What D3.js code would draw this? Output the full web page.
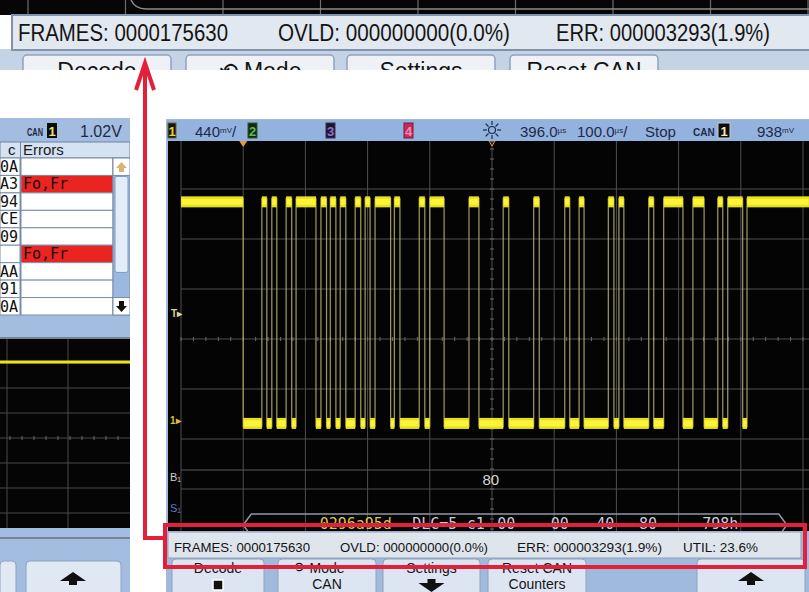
<!DOCTYPE html>
<html>
<head>
<meta charset="utf-8">
<script src="https://cdn.jsdelivr.net/npm/d3@7"></script>
<style>
body { margin: 0; background: #fff; overflow: hidden; }
svg { display: block; }
.sans { font-family: "Liberation Sans Narrow", "Liberation Sans", Arial, sans-serif; }
.mono { font-family: "DejaVu Sans Mono", "Liberation Mono", monospace; }
</style>
</head>
<body>
<script>
var W = 809, H = 592;

// ---- data ----
// CAN line: edge times in µs from the left of the screen, level toggles at each one (starts recessive/high)
var edgeTimes = [100, 130, 138, 146, 154, 169, 178, 185, 217, 225, 234, 240, 249, 256, 265,
  280, 289, 296, 304, 312, 337, 343, 352, 383, 392, 400, 423, 463, 479, 518, 527,
  567, 576, 617, 625, 640, 648, 687, 696, 704, 712, 752, 760, 776, 807, 823, 841,
  863, 871, 879, 903, 910];
var highVolts = 1.92, lowVolts = -0.03;
var voltsPerDiv = 0.44, centerVolts = 0.713;
var timePerDiv = 100;

var frameStart = 100, frameEnd = 974;
var busFields = ["0296a95d", "DLC=5", "c1", "00", "00", "40", "80", "798h"];
var busFieldTimes = [281, 408, 474, 523, 609, 682, 751, 867];
var laneValue = "80", laneValueTime = 498;

var counterLabels = ["FRAMES: 0000175630", "OVLD: 000000000(0.0%)", "ERR: 000003293(1.9%)", "UTIL: 23.6%"];
var frameIds = ["0A", "A3", "94", "CE", "09", "", "AA", "91", "0A"];
var frameErrors = ["", "Fo,Fr", "", "", "", "Fo,Fr", "", "", ""];
var softkeyTop = ["Decode", "Mode", "Settings", "Reset CAN"];
var softkeyBottom = ["", "CAN", "", "Counters"];

var svg = d3.select("body").append("svg").attr("width", W).attr("height", H);
var defs = svg.append("defs");
defs.append("filter").attr("id", "glow").append("feGaussianBlur").attr("stdDeviation", 0.7);

function clip(id, cx, cy, w, h) {
  defs.append("clipPath").attr("id", id).append("rect")
    .attr("x", cx).attr("y", cy).attr("width", w).attr("height", h);
  return "url(#" + id + ")";
}
function arrow(g, cx, cy, dir) {
  // thick arrow, dir 1 = up, -1 = down
  var s = dir;
  g.append("path")
    .attr("d", "M" + cx + "," + (cy - 7 * s) + " L" + (cx + 13) + "," + (cy + 2 * s) +
      " L" + (cx + 4) + "," + (cy + 2 * s) + " L" + (cx + 4) + "," + (cy + 6 * s) +
      " L" + (cx - 4) + "," + (cy + 6 * s) + " L" + (cx - 4) + "," + (cy + 2 * s) +
      " L" + (cx - 13) + "," + (cy + 2 * s) + "Z")
    .attr("fill", "#111");
}

// ================= top strip (enlarged status line) =================
var topG = svg.append("g").attr("clip-path", clip("topclip", 0, 0, W, 70));
topG.append("rect").attr("x", 0).attr("y", 0).attr("width", W).attr("height", 15).attr("fill", "#060606");
d3.range(28, W, 97.5).forEach(function (gx) {
  topG.append("line").attr("x1", gx).attr("x2", gx).attr("y1", 0).attr("y2", 15)
    .attr("stroke", "#6e6e6e").attr("stroke-width", 1.2);
});
topG.append("path").attr("d", "M131,0 Q135,9 146,9 L809,9")
  .attr("fill", "none").attr("stroke", "#8c8c8c").attr("stroke-width", 1.5);
topG.append("rect").attr("x", 0).attr("y", 49).attr("width", W).attr("height", 21).attr("fill", "#c5d3e6");
topG.append("rect").attr("x", 12).attr("y", 15).attr("width", 800).attr("height", 35)
  .attr("fill", "#e2e8ef").attr("stroke", "#8093ab").attr("stroke-width", 2);
var topCounterX = [18, 278, 556], topCounterW = [210, 232, 214];
counterLabels.slice(0, 3).forEach(function (s, i) {
  topG.append("text").attr("class", "sans").attr("x", topCounterX[i]).attr("y", 41)
    .attr("font-size", 23).attr("fill", "#141414")
    .attr("textLength", topCounterW[i]).attr("lengthAdjust", "spacingAndGlyphs").text(s);
});
var topKeyX = [23, 186, 347, 510];
softkeyTop.forEach(function (s, i) {
  topG.append("rect").attr("x", topKeyX[i]).attr("y", 55).attr("width", 148).attr("height", 30)
    .attr("rx", 4).attr("fill", "#eef2f7").attr("stroke", "#8ea2bd").attr("stroke-width", 1.5);
  topG.append("text").attr("class", "sans").attr("x", topKeyX[i] + 74).attr("y", 79)
    .attr("text-anchor", "middle").attr("font-size", 23).attr("fill", "#141414")
    .text(i === 1 ? "\u27F2 " + s : s);
});

// ================= left scope panel =================
var left = svg.append("g").attr("clip-path", clip("leftclip", 0, 118, 130, 474));
left.append("rect").attr("x", 0).attr("y", 118).attr("width", 130).attr("height", 474).attr("fill", "#a3bde0");
left.append("text").attr("class", "sans").attr("x", 27).attr("y", 136).attr("font-size", 10)
  .attr("font-weight", "bold").attr("fill", "#1c2a48")
  .attr("textLength", 16).attr("lengthAdjust", "spacingAndGlyphs").text("CAN");
left.append("rect").attr("x", 47).attr("y", 123).attr("width", 10).attr("height", 15).attr("fill", "#0c0c0c");
left.append("text").attr("class", "sans").attr("x", 52).attr("y", 136).attr("text-anchor", "middle")
  .attr("font-size", 13).attr("font-weight", "bold").attr("fill", "#ece27a").text("1");
left.append("text").attr("class", "sans").attr("x", 80).attr("y", 137).attr("font-size", 16)
  .attr("fill", "#1c2a48").text("1.02V");

var rowY = d3.scaleBand().domain(d3.range(frameIds.length)).range([158, 315]);
left.append("rect").attr("x", 0).attr("y", 142).attr("width", 130).attr("height", 16)
  .attr("fill", "#d4e2f2").attr("stroke", "#6d84a6");
left.append("line").attr("x1", 20.5).attr("x2", 20.5).attr("y1", 142).attr("y2", 315).attr("stroke", "#6d84a6");
left.append("text").attr("class", "sans").attr("x", 8).attr("y", 155).attr("font-size", 15).attr("fill", "#1a1a1a").text("c");
left.append("text").attr("class", "sans").attr("x", 23).attr("y", 155).attr("font-size", 15).attr("fill", "#1a1a1a").text("Errors");
var rows = left.selectAll("g.row").data(frameIds).enter().append("g");
rows.append("rect").attr("x", 0).attr("y", function (d, i) { return rowY(i); })
  .attr("width", 20).attr("height", rowY.bandwidth()).attr("fill", "#fff").attr("stroke", "#7b8ea8");
rows.append("rect").attr("x", 21).attr("y", function (d, i) { return rowY(i); })
  .attr("width", 92).attr("height", rowY.bandwidth())
  .attr("fill", function (d, i) { return frameErrors[i] ? "#ea2420" : "#fff"; })
  .attr("stroke", "#7b8ea8");
rows.append("text").attr("class", "mono").attr("x", 18).attr("text-anchor", "end")
  .attr("y", function (d, i) { return rowY(i) + 14; }).attr("font-size", 15).attr("fill", "#111")
  .text(function (d) { return d; });
rows.append("text").attr("class", "mono").attr("x", 23)
  .attr("y", function (d, i) { return rowY(i) + 14; }).attr("font-size", 15).attr("fill", "#111")
  .text(function (d, i) { return frameErrors[i]; });
// scroll bar
left.append("rect").attr("x", 113).attr("y", 158).attr("width", 17).attr("height", 157).attr("fill", "#9bb9e0").attr("stroke", "#7b8ea8");
left.append("rect").attr("x", 113).attr("y", rowY(0)).attr("width", 17).attr("height", rowY.bandwidth()).attr("fill", "#fff").attr("stroke", "#7b8ea8");
left.append("rect").attr("x", 113).attr("y", rowY(8)).attr("width", 17).attr("height", rowY.bandwidth()).attr("fill", "#fff").attr("stroke", "#7b8ea8");
left.append("rect").attr("x", 115).attr("y", rowY(1) + 1).attr("width", 13).attr("height", 96).attr("rx", 2).attr("fill", "#e3ecf7").attr("stroke", "#7e9cc6");
left.append("path").attr("d", "M121.5,162 L127,168 L124,168 L124,172 L119,172 L119,168 L116,168Z").attr("fill", "#d9b27a");
left.append("path").attr("d", "M121.5,312 L127,306 L124,306 L124,301 L119,301 L119,306 L116,306Z").attr("fill", "#111");

// left screen
left.append("rect").attr("x", 0).attr("y", 339).attr("width", 130).attr("height", 189).attr("fill", "#050505");
var leftY = d3.scaleLinear().domain([-1.6, 2.4]).range([538, 338]);
d3.range(-1.6, 2.41, 0.5).forEach(function (v) {
  left.append("line").attr("x1", 0).attr("x2", 130).attr("y1", leftY(v)).attr("y2", leftY(v))
    .attr("stroke", "#4a4a4a").attr("stroke-width", 1);
});
[7, 68].forEach(function (gx) {
  left.append("line").attr("x1", gx).attr("x2", gx).attr("y1", 339).attr("y2", 528).attr("stroke", "#4a4a4a");
});
d3.range(-2, 130, 12).forEach(function (tx) {
  left.append("line").attr("x1", tx).attr("x2", tx).attr("y1", leftY(0.4) - 2).attr("y2", leftY(0.4) + 2).attr("stroke", "#666");
});
left.append("line").attr("x1", 0).attr("x2", 130).attr("y1", leftY(highVolts)).attr("y2", leftY(highVolts))
  .attr("stroke", "#eee21c").attr("stroke-width", 3);
left.append("rect").attr("x", 0).attr("y", 561).attr("width", 16).attr("height", 40).attr("rx", 4).attr("fill", "#dfe8f3").attr("stroke", "#8ea2bd");
left.append("rect").attr("x", 26).attr("y", 561).attr("width", 95).attr("height", 40).attr("rx", 4).attr("fill", "#dfe8f3").attr("stroke", "#8ea2bd");
arrow(left, 73, 579, 1);

// ================= main scope =================
var x = d3.scaleLinear().domain([0, 10 * timePerDiv]).range([181, 803]);
var y = d3.scaleLinear().domain([centerVolts - 4 * voltsPerDiv, centerVolts + 4 * voltsPerDiv]).range([539, 139]);

var scope = svg.append("g");
scope.append("rect").attr("x", 166).attr("y", 119).attr("width", 643).attr("height", 473).attr("fill", "#a0bade");
scope.append("rect").attr("x", 167).attr("y", 120).attr("width", 642).attr("height", 21).attr("fill", "#93b2dd");

var screen = scope.append("g").attr("clip-path", clip("scrclip", 168, 141, 641, 390));
screen.append("rect").attr("x", 168).attr("y", 141).attr("width", 641).attr("height", 390).attr("fill", "#040404");

var gridG = screen.append("g").attr("stroke", "#4e4e4e").attr("stroke-width", 1);
d3.range(0, 10 * timePerDiv + 1, timePerDiv).forEach(function (t) {
  gridG.append("line").attr("x1", x(t)).attr("x2", x(t)).attr("y1", 141).attr("y2", 531);
});
d3.range(0, 9).forEach(function (k) {
  var v = centerVolts + (4 - k) * voltsPerDiv;
  gridG.append("line").attr("x1", 181).attr("x2", 809).attr("y1", y(v)).attr("y2", y(v));
});
d3.range(0, 10 * timePerDiv + 1, timePerDiv / 5).forEach(function (t) {
  gridG.append("line").attr("x1", x(t)).attr("x2", x(t)).attr("y1", y(centerVolts) - 2).attr("y2", y(centerVolts) + 2).attr("stroke", "#6a6a6a");
});
d3.range(-4, 4.01, 0.2).forEach(function (k) {
  var v = centerVolts + k * voltsPerDiv;
  gridG.append("line").attr("x1", x(500) - 2).attr("x2", x(500) + 2).attr("y1", y(v)).attr("y2", y(v)).attr("stroke", "#6a6a6a");
});
// lane line for the symbolic row
screen.append("line").attr("x1", 181).attr("x2", 809).attr("y1", 470).attr("y2", 470).attr("stroke", "#5a5a5a");

// CAN trace
var bounds = [0].concat(edgeTimes).concat([x.invert(W)]);
var segs = d3.range(bounds.length - 1).map(function (i) {
  return { t0: bounds[i], t1: bounds[i + 1], v: i % 2 === 0 ? highVolts : lowVolts };
});
var trace = screen.append("g");
trace.selectAll("line.edge").data(edgeTimes).enter().append("line")
  .attr("x1", function (d) { return x(d); }).attr("x2", function (d) { return x(d); })
  .attr("y1", y(highVolts) - 4).attr("y2", y(lowVolts) + 4)
  .attr("stroke", "#bdb770").attr("stroke-width", 1.2).attr("opacity", 0.85);
trace.selectAll("rect.band").data(segs).enter().append("rect")
  .attr("x", function (d) { return x(d.t0); })
  .attr("width", function (d) { return x(d.t1) - x(d.t0); })
  .attr("y", function (d) { return y(d.v) - 5.5; }).attr("height", 11)
  .attr("fill", "#e9e01a").attr("filter", "url(#glow)");
trace.selectAll("rect.core").data(segs).enter().append("rect")
  .attr("x", function (d) { return x(d.t0) + 0.5; })
  .attr("width", function (d) { return Math.max(0, x(d.t1) - x(d.t0) - 1); })
  .attr("y", function (d) { return y(d.v) - 3; }).attr("height", 6)
  .attr("fill", "#fbf43a");

// margin labels
screen.append("text").attr("class", "sans").attr("x", 171).attr("y", y(0.938) + 4).attr("font-size", 10)
  .attr("font-weight", "bold").attr("fill", "#ddd4a0").text("T\u25B8");
screen.append("text").attr("class", "sans").attr("x", 170).attr("y", y(0) + 4).attr("font-size", 10)
  .attr("font-weight", "bold").attr("fill", "#d8bf3c").text("1\u25B8");
screen.append("text").attr("class", "sans").attr("x", 170).attr("y", 481).attr("font-size", 11)
  .attr("fill", "#cfcfcf").text("B\u2081");
screen.append("text").attr("class", "sans").attr("x", 170).attr("y", 512).attr("font-size", 11)
  .attr("fill", "#5d7fc4").text("S\u2081");

// symbolic lane and decoded bus
screen.append("text").attr("class", "sans").attr("x", x(laneValueTime)).attr("y", 485)
  .attr("text-anchor", "middle").attr("font-size", 15).attr("fill", "#d6d6d6").text(laneValue);
var bx0 = x(frameStart), bx1 = x(frameEnd), by = 525, bh = 11;
screen.append("path")
  .attr("d", "M" + bx0 + "," + by + " L" + (bx0 + 8) + "," + (by - bh) + " L" + (bx1 - 8) + "," + (by - bh) +
    " L" + bx1 + "," + by + " L" + (bx1 - 8) + "," + (by + bh) + " L" + (bx0 + 8) + "," + (by + bh) + "Z")
  .attr("fill", "none").attr("stroke", "#8e98a8").attr("stroke-width", 1.5);
screen.selectAll("text.bus").data(busFields).enter().append("text").attr("class", "mono")
  .attr("x", function (d, i) { return x(busFieldTimes[i]); }).attr("y", 529)
  .attr("text-anchor", "middle").attr("font-size", 15)
  .attr("fill", function (d, i) { return i === 0 ? "#d9c847" : "#c6ced8"; })
  .text(function (d) { return d; });

// top markers
screen.append("path").attr("d", "M" + (x(frameStart) - 4) + ",141 L" + (x(frameStart) + 4) + ",141 L" + x(frameStart) + ",147Z").attr("fill", "#e79a3c");
screen.append("path").attr("d", "M" + (x(500) - 3) + ",141 L" + (x(500) + 3) + ",141 L" + x(500) + ",146Z").attr("fill", "none").attr("stroke", "#e79a3c");

// header bar
var hdr = scope.append("g");
function badge(bx, w, fill, stroke, txt, color) {
  hdr.append("rect").attr("x", bx).attr("y", 123).attr("width", w).attr("height", 15).attr("fill", fill).attr("stroke", stroke);
  hdr.append("text").attr("class", "sans").attr("x", bx + w / 2).attr("y", 136).attr("text-anchor", "middle")
    .attr("font-size", 13).attr("font-weight", "bold").attr("fill", color).text(txt);
}
function hdrText(hx, main, unit, tail) {
  var t = hdr.append("text").attr("class", "sans").attr("x", hx).attr("y", 137).attr("font-size", 15).attr("fill", "#1c2a48");
  t.append("tspan").text(main);
  if (unit) t.append("tspan").attr("font-size", 8).attr("dy", -4).text(unit);
  if (tail) t.append("tspan").attr("dy", 4).text(tail);
}
badge(168, 8, "#141414", "#6b6220", "1", "#e6d53a");
hdrText(195, "440", "mV", "/");
badge(248, 9, "#182418", "#2e5a2e", "2", "#56c04a");
badge(326, 9, "#1c1628", "#3c2f5a", "3", "#8f72d8");
badge(404, 9, "#c8285a", "#7a1a3a", "4", "#f08cae");
var sun = hdr.append("g").attr("transform", "translate(" + x(500) + ",130)");
sun.append("circle").attr("r", 3.5).attr("fill", "none").attr("stroke", "#1c2a48").attr("stroke-width", 1.2);
d3.range(8).forEach(function (k) {
  var a = k * Math.PI / 4;
  sun.append("line").attr("x1", 5 * Math.cos(a)).attr("y1", 5 * Math.sin(a))
    .attr("x2", 9 * Math.cos(a)).attr("y2", 9 * Math.sin(a)).attr("stroke", "#1c2a48").attr("stroke-width", 1.2);
});
hdrText(520, "396.0", "\u00B5s", "");
hdrText(577, "100.0", "\u00B5s", "/");
hdrText(645, "Stop", "", "");
hdr.append("text").attr("class", "sans").attr("x", 693).attr("y", 136).attr("font-size", 10)
  .attr("font-weight", "bold").attr("fill", "#1c2a48").text("CAN");
badge(718, 12, "#0c0c0c", "#ccc", "1", "#f2ecb0");
hdrText(757, "938", "mV", "");

// status line
scope.append("rect").attr("x", 168).attr("y", 532).attr("width", 633).attr("height", 26)
  .attr("fill", "#dfe5ec").attr("stroke", "#8e9fb6");
var cX = [174, 340, 517, 683], cW = [136, 148, 145, 75];
counterLabels.forEach(function (s, i) {
  scope.append("text").attr("class", "sans").attr("x", cX[i]).attr("y", 552)
    .attr("font-size", 13.5).attr("fill", "#141414")
    .attr("textLength", cW[i]).attr("lengthAdjust", "spacingAndGlyphs").text(s);
});

// softkeys
var keyX = [172, 278, 383, 488, 697], keyW = [92, 98, 97, 98, 108];
keyX.forEach(function (kx, i) {
  scope.append("rect").attr("x", kx).attr("y", 559).attr("width", keyW[i]).attr("height", 40).attr("rx", 4)
    .attr("fill", "#dce5f1").attr("stroke", "#8ea2bd");
});
softkeyTop.forEach(function (s, i) {
  scope.append("text").attr("class", "sans").attr("x", keyX[i] + keyW[i] / 2).attr("y", 573)
    .attr("text-anchor", "middle").attr("font-size", 14).attr("fill", "#141414").text(s);
  if (softkeyBottom[i]) scope.append("text").attr("class", "sans").attr("x", keyX[i] + keyW[i] / 2).attr("y", 589)
    .attr("text-anchor", "middle").attr("font-size", 14).attr("fill", "#141414").text(softkeyBottom[i]);
});
scope.append("text").attr("class", "sans").attr("x", 292).attr("y", 572).attr("font-size", 14).attr("fill", "#141414").text("\u27F2");
scope.append("rect").attr("x", keyX[0] + keyW[0] / 2 - 5).attr("y", 580).attr("width", 10).attr("height", 10)
  .attr("fill", "#111").attr("stroke", "#fff").attr("stroke-width", 1.5);
arrow(scope, keyX[2] + keyW[2] / 2, 585, -1);
arrow(scope, keyX[4] + keyW[4] / 2, 579, 1);

// ================= red callout =================
var red = "#e3203a";
var note = svg.append("g").attr("fill", "none").attr("stroke", red).attr("stroke-width", 4);
note.append("path").attr("d", "M145,64 L145,538 L165,538");
note.append("path").attr("d", "M136,90 L145,63 L154,90").attr("stroke-linejoin", "miter");
note.append("rect").attr("x", 165).attr("y", 525).attr("width", 640).attr("height", 42);
</script>
</body>
</html>
